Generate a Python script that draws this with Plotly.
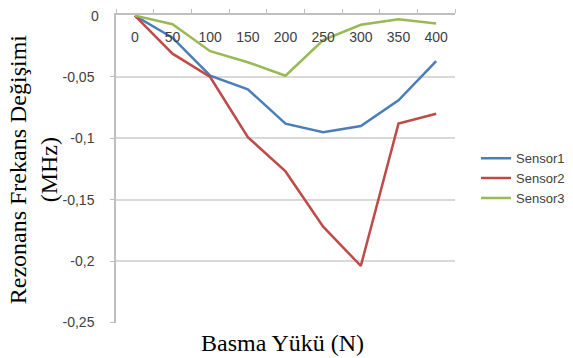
import plotly.graph_objects as go

# Basma yükü (N) kategorileri
loads = ["0", "50", "100", "150", "200", "250", "300", "350", "400"]

# Rezonans frekansı değişimi (MHz)
sensor1 = [0, -0.018, -0.049, -0.060, -0.088, -0.095, -0.090, -0.069, -0.037]
sensor2 = [0, -0.031, -0.050, -0.099, -0.127, -0.172, -0.204, -0.088, -0.080]
sensor3 = [0, -0.007, -0.029, -0.038, -0.049, -0.020, -0.0075, -0.003, -0.0065]

y_ticks = [0, -0.05, -0.1, -0.15, -0.2, -0.25]
y_labels = ["0", "-0,05", "-0,1", "-0,15", "-0,2", "-0,25"]

series = [
    ("Sensor1", sensor1, "#4a7ebb"),
    ("Sensor2", sensor2, "#be4b48"),
    ("Sensor3", sensor3, "#98b954"),
]

fig = go.Figure()
for name, vals, color in series:
    fig.add_trace(go.Scatter(
        x=loads, y=vals, name=name, mode="lines",
        line=dict(color=color, width=2.5),
    ))

sans = "Liberation Sans, Arial, sans-serif"
serif = "Liberation Serif, Times New Roman, serif"
tick_color = "#404040"

fig.update_layout(
    width=573, height=358,
    margin=dict(l=116, r=118, t=15, b=35, autoexpand=False),
    paper_bgcolor="white", plot_bgcolor="white",
    font=dict(family=sans, size=13, color=tick_color),
    legend=dict(
        x=1.062, y=0.47, xanchor="left", yanchor="middle",
        font=dict(family=sans, size=13, color=tick_color),
        itemwidth=30, tracegroupgap=0,
        bgcolor="rgba(0,0,0,0)",
    ),
    showlegend=True,
)

fig.update_xaxes(
    type="category", side="top",
    ticklabelposition="inside", ticklabelstandoff=17,
    range=[-0.5, 8.5],
    showline=True, linecolor="#bfbfbf", linewidth=1.5,
    ticks="outside", tickson="boundaries", ticklen=4, tickcolor="#bfbfbf",
    showgrid=False, zeroline=False,
    tickfont=dict(family=sans, size=14, color=tick_color),
    title=None,
)

fig.update_yaxes(
    range=[-0.2505, 0.0005],
    tickvals=y_ticks, ticktext=y_labels,
    showline=True, linecolor="#bfbfbf", linewidth=1.5,
    ticks="outside", ticklen=4, tickcolor="#bfbfbf",
    ticklabelstandoff=13,
    showgrid=True, gridcolor="#d9d9d9", gridwidth=1.5,
    zeroline=False,
    tickfont=dict(family=sans, size=14, color=tick_color),
)

# The top y label is suppressed by plotly next to inside x tick labels,
# so it is written at the same spot as the other y tick labels.
fig.add_annotation(
    text=y_labels[0], xref="paper", yref="y", x=0, y=y_ticks[0],
    xanchor="right", yanchor="middle", xshift=-15, showarrow=False,
    font=dict(family=sans, size=14, color=tick_color),
)

# Eksen başlıkları
fig.add_annotation(
    text="Rezonans Frekans Değişimi<br>(MHz)",
    xref="paper", yref="paper", x=-0.244, y=0.5,
    xanchor="center", yanchor="middle", textangle=-90,
    showarrow=False,
    font=dict(family=serif, size=24, color="#000000"),
)
fig.add_annotation(
    text="Basma Yükü (N)",
    xref="paper", yref="paper", x=0.49, y=-0.015,
    xanchor="center", yanchor="top",
    showarrow=False,
    font=dict(family=serif, size=24, color="#000000"),
)

fig.write_html("out.html")
